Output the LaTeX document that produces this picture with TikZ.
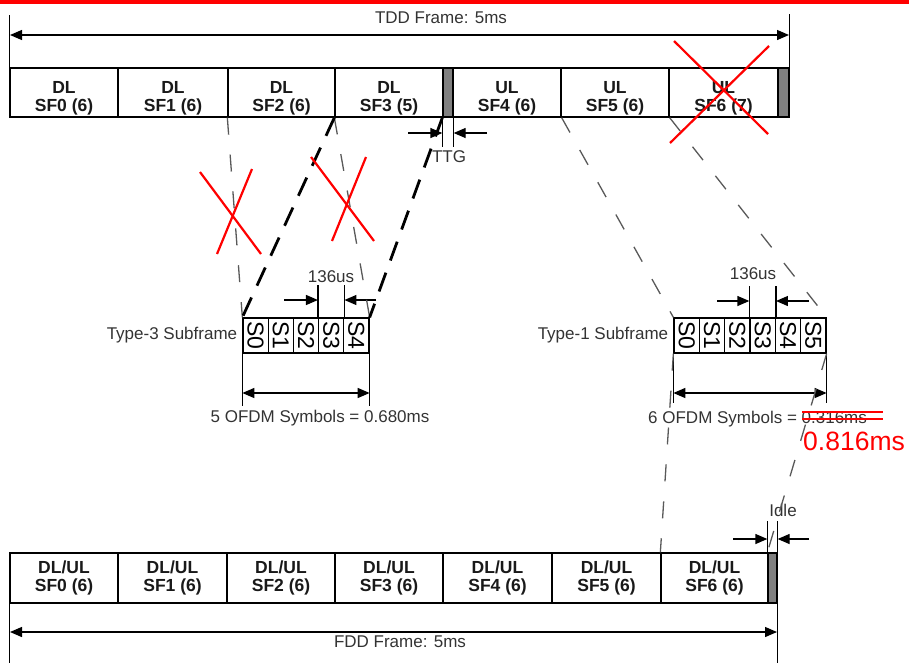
\documentclass[tikz,border=0pt]{standalone}
\usepackage{fontspec}
\setmainfont{Liberation Sans}
\usetikzlibrary{arrows.meta,positioning}

\tikzset{
  tddcell/.style={draw, line width=1.3pt, inner sep=0pt, minimum height=49pt,
    align=center, font=\fontsize{17.5}{18.4}\selectfont\bfseries, text=black!90, text height=42pt},
  fddcell/.style={draw, line width=1.3pt, inner sep=0pt, minimum height=50pt,
    align=center, font=\fontsize{17.5}{17.5}\selectfont\bfseries, text=black!90},
  gapcell/.style={draw, line width=1.3pt, fill=black!50, inner sep=0pt},
  symcell/.style={draw, line width=1.3pt, inner sep=0pt, minimum width=25.2pt, minimum height=35pt,
    font=\fontsize{23}{23}\selectfont},
  lbl/.style={inner sep=0pt, font=\fontsize{17}{17}\selectfont, text=black!80},
  dimarrow/.style={line width=1.3pt, {Triangle[length=12pt,width=10pt]}-{Triangle[length=12pt,width=10pt]}},
  pointer/.style={line width=1.3pt, -{Triangle[length=12pt,width=10pt]}},
  thinmap/.style={black!65, line width=1.3pt, dash pattern=on 17pt off 20pt},
  thickmap/.style={black, line width=2.8pt, dash pattern=on 20pt off 13pt},
  cross/.style={red, line width=2.2pt},
}

\begin{document}
\begin{tikzpicture}[x=1pt,y=-1pt]
\useasboundingbox (0,0) rectangle (909,662);
\fill[red] (0,0) rectangle (909,3.5);

% TDD frame
\foreach \i/\xa/\xb/\dir/\n in {0/10/118/DL/6, 1/118/228/DL/6, 2/228/335/DL/6, 3/335/443/DL/5, 4/453/561/UL/6, 5/561/669/UL/6, 6/669/778/UL/7}
  \node[tddcell, minimum width={(\xb-\xa)*1pt}] (tdd\i) at ({(\xa+\xb)/2},92.5) {\dir\\SF\i\ (\n)};
\node[gapcell, minimum width=10pt, minimum height=49pt] (ttg) at (448,92.5) {};
\node[gapcell, minimum width=11pt, minimum height=49pt] (tddend) at (783.5,92.5) {};

\draw[line width=1.3pt] (tdd0.south west) -- ++(0,-103);
\draw[line width=1.3pt] (tddend.south east) -- ++(0,-104);
\coordinate (tddl) at (10,35);
\coordinate (tddr) at (789,35);
\draw[dimarrow] (tddl) -- (tddr);
\node[lbl] (tddlbl) at (441,18) {TDD Frame: 5ms};

% TTG
\draw[line width=1.2pt] (ttg.south west) -- ++(0,29);
\draw[line width=1.2pt] (ttg.south east) -- ++(0,29);
\coordinate (ttgl) at (408,133);
\coordinate (ttgr) at (487,133);
\draw[pointer] (ttgl) -- (ttg.south west |- ttgl);
\draw[pointer] (ttgr) -- (ttg.south east |- ttgr);
\node[lbl] (ttglbl) at (449,157) {TTG};

% Type-3 subframe
\foreach \i in {0,...,4}
  \node[symcell] (t3s\i) at ({243+25.2*(\i+0.5)},335.5) {\rotatebox{-90}{S\i}};
\node[lbl, left=5pt of t3s0] (t3lbl) {Type-3 Subframe};

\draw[line width=1.2pt] (t3s3.north west) -- ++(0,-32);
\draw[line width=1.2pt] (t3s3.north east) -- ++(0,-32);
\coordinate (t3gl) at (284,300);
\coordinate (t3gr) at (376,300);
\draw[pointer] (t3gl) -- (t3s3.north west |- t3gl);
\draw[pointer] (t3gr) -- (t3s3.north east |- t3gr);
\node[lbl] (t3us) at (331,277) {136us};

\draw[line width=1.2pt] (t3s0.south west) -- ++(0,52);
\draw[line width=1.2pt] (t3s4.south east) -- ++(0,52);
\coordinate (t3dim) at (0,393);
\draw[dimarrow] (t3s0.south west |- t3dim) -- (t3s4.south east |- t3dim);
\node[lbl, anchor=base] (t3sum) at (320,422) {5 OFDM Symbols = 0.680ms};

% Type-1 subframe
\foreach \i in {0,...,5}
  \node[symcell, minimum width=25.33pt] (t1s\i) at ({674+25.33*(\i+0.5)},335.5) {\rotatebox{-90}{S\i}};
\node[lbl, left=5pt of t1s0] (t1lbl) {Type-1 Subframe};

\draw[line width=1.2pt] (t1s3.north west) -- ++(0,-31);
\draw[line width=1.2pt] (t1s3.north east) -- ++(0,-31);
\coordinate (t1gl) at (717,301);
\coordinate (t1gr) at (809,301);
\draw[pointer] (t1gl) -- (t1s3.north west |- t1gl);
\draw[pointer] (t1gr) -- (t1s3.north east |- t1gr);
\node[lbl] (t1us) at (753,274) {136us};

\draw[line width=1.2pt] (t1s0.south west) -- ++(0,49);
\draw[line width=1.2pt] (t1s5.south east) -- ++(0,49);
\coordinate (t1dim) at (0,393);
\draw[dimarrow] (t1s0.south west |- t1dim) -- (t1s5.south east |- t1dim);
\node[lbl, anchor=base west] (t1sum) at (648,423) {6 OFDM Symbols = 0.316ms};
\draw[red, line width=2.5pt] (802,412) -- (883,412);
\draw[red, line width=2.5pt] (802,419) -- (883,419);
\node[inner sep=0pt, anchor=base west, text=red, font=\fontsize{26.5}{26.5}\selectfont] (fix) at (803,450) {0.816ms};

% FDD frame
\foreach \i/\xa/\xb in {0/10/118, 1/118/227, 2/227/335, 3/335/443, 4/443/552, 5/552/661, 6/661/768}
  \node[fddcell, minimum width={(\xb-\xa)*1pt}] (fdd\i) at ({(\xa+\xb)/2},578) {DL/UL\\SF\i\ (6)};
\node[gapcell, minimum width=9pt, minimum height=50pt] (idle) at (772.5,578) {};

\draw[line width=1.3pt] (fdd0.south west) -- ++(0,59);
\draw[line width=1.2pt] (idle.north west) -- ++(0,-31);
\draw[line width=1.3pt] (idle.north east) ++(0,-31) -- (idle.south east) -- ++(0,59);
\coordinate (idlel) at (733,539);
\coordinate (idler) at (809,539);
\draw[pointer] (idlel) -- (idle.north west |- idlel);
\draw[pointer] (idler) -- (idle.north east |- idler);
\node[lbl] (idlelbl) at (783,510) {Idle};

\coordinate (fddl) at (10,632);
\coordinate (fddr) at (777,632);
\draw[dimarrow] (fddl) -- (fddr);
\node[lbl] (fddlbl) at (400,642) {FDD Frame: 5ms};

% mapping lines
\draw[thinmap] (tdd2.south west) -- (t3s0.north west);
\draw[thinmap] (tdd3.south west) -- (t3s4.north east);
\draw[thickmap] (tdd3.south west) -- (t3s0.north west);
\draw[thickmap] (ttg.south west) -- (t3s4.north east);
\draw[thinmap] (tdd4.south east) -- (t1s0.north west);
\draw[thinmap] (tdd5.south east) -- (t1s5.north east);
\draw[thinmap] (t1s0.south west) -- (fdd6.north west);
\draw[thinmap] (t1s5.south east) -- (idle.north west);

% crossed out
\draw[cross] (200,172) -- (261,254);
\draw[cross] (252,169) -- (217,254);
\draw[cross] (311,157) -- (374,241);
\draw[cross] (366,157) -- (332,241);
\draw[cross] (674,41) -- (768,134);
\draw[cross] (769,46) -- (670,143);
\end{tikzpicture}
\end{document}
